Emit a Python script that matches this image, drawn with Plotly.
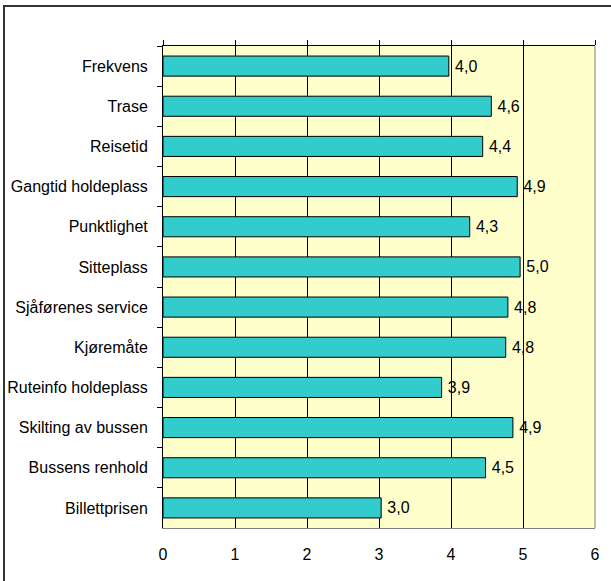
import plotly.graph_objects as go

categories = ["Frekvens", "Trase", "Reisetid", "Gangtid holdeplass", "Punktlighet",
              "Sitteplass", "Sjåførenes service", "Kjøremåte", "Ruteinfo holdeplass",
              "Skilting av bussen", "Bussens renhold", "Billettprisen"]
values = [3.97, 4.56, 4.44, 4.92, 4.26, 4.96, 4.79, 4.76, 3.87, 4.86, 4.48, 3.03]
x_ticks = [0, 1, 2, 3, 4, 5, 6]

labels = ["\u2009" + f"{v:.1f}".replace(".", ",") for v in values]
FONT = "Liberation Sans, Arial, sans-serif"
L, R, T, B = 163, 16, 46, 53
PW, PH = 611 - L - R, 581 - T - B

fig = go.Figure()
fig.add_trace(go.Bar(
    x=values, y=categories, orientation="h",
    marker=dict(color="#33CCCC", line=dict(color="#000000", width=1)),
    width=0.5,
    text=labels, textposition="outside", cliponaxis=False,
    textfont=dict(family=FONT, size=16, color="#000000"),
    hoverinfo="x+y",
))
# empty helper trace so the top axis (ticks only) is drawn
fig.add_trace(go.Scatter(x=[], y=[], xaxis="x2", yaxis="y", showlegend=False,
                         hoverinfo="skip"))

fig.update_layout(
    width=611, height=581,
    margin=dict(l=L, r=R, t=T, b=B, autoexpand=False),
    paper_bgcolor="white", plot_bgcolor="#FFFFCC",
    font=dict(family=FONT, size=16, color="#000000"),
    showlegend=False,
    xaxis=dict(range=[0, 6], tickvals=x_ticks, ticktext=[str(t) for t in x_ticks],
               showgrid=True, gridcolor="#000000", gridwidth=1,
               zeroline=False, showline=True, linecolor="#808080", linewidth=1,
               ticks="", ticklabelstandoff=12, fixedrange=True, automargin=False),
    xaxis2=dict(range=[0, 6], tickvals=x_ticks, overlaying="x", side="top",
                matches="x", showgrid=False, zeroline=False, showline=True,
                linecolor="#000000", linewidth=1, ticks="outside", ticklen=5,
                tickcolor="#000000", showticklabels=False, automargin=False),
    yaxis=dict(categoryorder="array", categoryarray=categories, autorange="reversed",
               ticks="outside", tickson="boundaries", ticklen=5, tickcolor="#000000",
               showline=True, linecolor="#000000", linewidth=1, showgrid=False,
               ticklabelstandoff=11, automargin=False),
    shapes=[
        dict(type="line", xref="x domain", yref="y domain", x0=1, x1=1, y0=0, y1=1,
             line=dict(color="#808080", width=1), layer="above"),
        dict(type="rect", xref="paper", yref="paper",
             x0=-(L - 4) / PW, x1=1 + 40 / PW,
             y0=-(B + 40) / PH, y1=1 + (T - 6) / PH,
             line=dict(color="#333333", width=2)),
    ],
)

fig.write_html("out.html")
